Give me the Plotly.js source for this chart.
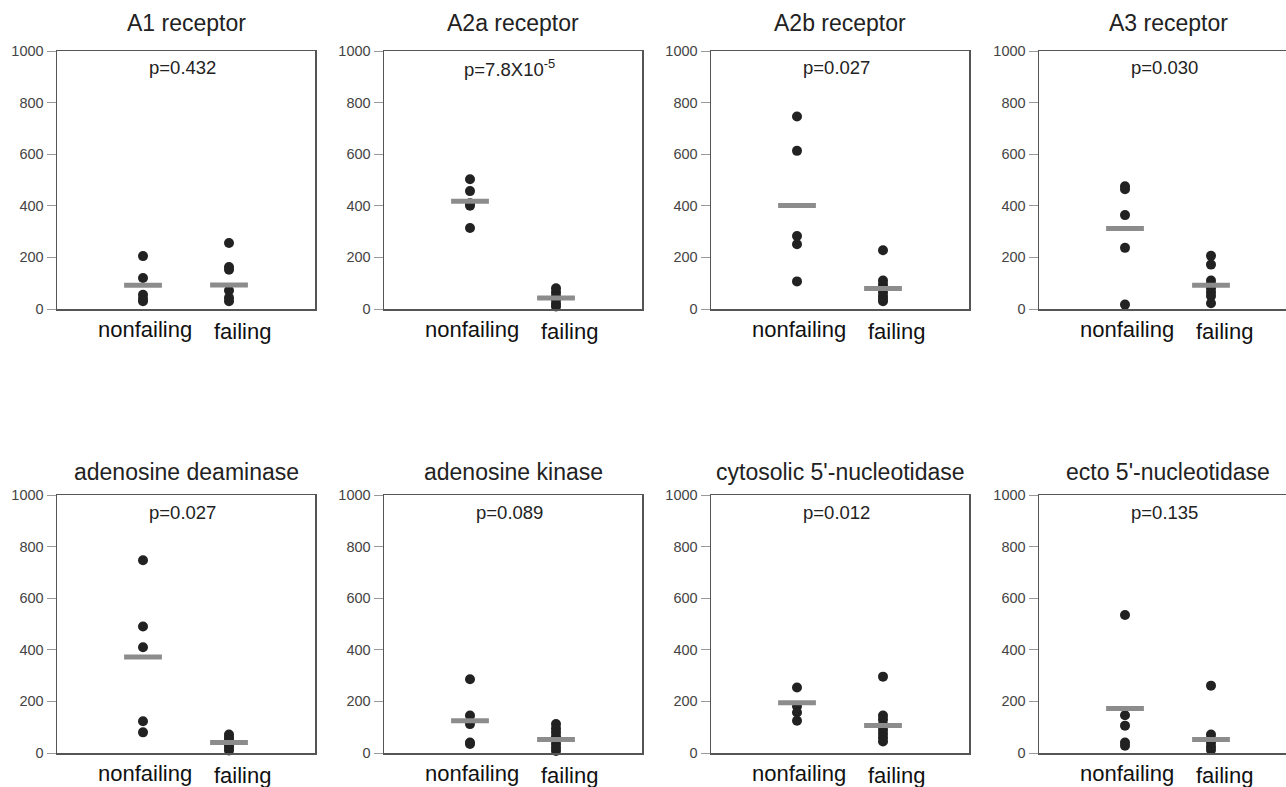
<!DOCTYPE html>
<html>
<head>
<meta charset="utf-8">
<script src="https://cdn.plot.ly/plotly-3.0.1.min.js"></script>
<style>
html,body{margin:0;padding:0;overflow:hidden;background:#fff;}
#chart{width:1300px;height:787px;}
</style>
</head>
<body>
<div id="chart"></div>
<script>
// ---- data ----
const categories = ['nonfailing', 'failing'];
const panelTitles = ['A1 receptor', 'A2a receptor', 'A2b receptor', 'A3 receptor',
  'adenosine deaminase', 'adenosine kinase', "cytosolic 5'-nucleotidase", "ecto 5'-nucleotidase"];
const pValues = ['p=0.432', 'p=7.8X10<sup>-5</sup>', 'p=0.027', 'p=0.030',
  'p=0.027', 'p=0.089', 'p=0.012', 'p=0.135'];

const a1Nonfailing = [205, 120, 55, 40, 30];
const a1Failing = [256, 163, 152, 72, 43, 30];
const a2aNonfailing = [503, 457, 410, 400, 314];
const a2aFailing = [80, 65, 50, 35, 20, 10];
const a2bNonfailing = [746, 613, 283, 251, 107];
const a2bFailing = [228, 110, 95, 80, 65, 50, 40, 30];
const a3Nonfailing = [476, 464, 364, 237, 17];
const a3Failing = [206, 172, 110, 95, 80, 65, 50, 22];
const adaNonfailing = [747, 490, 410, 123, 80];
const adaFailing = [72, 60, 50, 40, 30, 20, 10];
const akNonfailing = [286, 145, 112, 41, 35];
const akFailing = [112, 95, 80, 65, 50, 35, 20, 8];
const cntNonfailing = [254, 181, 157, 125];
const cntFailing = [296, 145, 130, 110, 90, 75, 60, 45];
const ectoNonfailing = [535, 146, 106, 41, 28];
const ectoFailing = [261, 72, 55, 40, 25, 12];

const meanNonfailing = [92, 418, 401, 312, 372, 125, 195, 172];
const meanFailing = [93, 43, 79, 92, 41, 52, 107, 52];

const yTicks = [0, 200, 400, 600, 800, 1000];

// ---- layout geometry (pixels) ----
const W = 1300, H = 787;
const colLeft = [57, 384, 711, 1039];
const plotSize = 258;
const rowTop = [51, 495];
const labelShiftX = [2, 13];
const labelShiftY = [-20, -22];

const groups = [
  [a1Nonfailing, a1Failing], [a2aNonfailing, a2aFailing], [a2bNonfailing, a2bFailing], [a3Nonfailing, a3Failing],
  [adaNonfailing, adaFailing], [akNonfailing, akFailing], [cntNonfailing, cntFailing], [ectoNonfailing, ectoFailing]
];

const FONT = 'Liberation Sans, Arial, sans-serif';
const traces = [];
const layout = {
  width: W, height: H,
  margin: {l: 0, r: 0, t: 0, b: 0},
  paper_bgcolor: '#fff', plot_bgcolor: '#fff',
  showlegend: false,
  font: {family: FONT},
  annotations: []
};

groups.forEach((g, i) => {
  const n = i + 1;
  const xa = n === 1 ? 'x' : 'x' + n;
  const ya = n === 1 ? 'y' : 'y' + n;
  const col = i % 4, row = Math.floor(i / 4);
  const x0 = colLeft[col], x1 = x0 + plotSize;
  const yTop = rowTop[row], yBot = yTop + plotSize;

  const xs = [], ys = [];
  g[0].forEach(v => { xs.push(categories[0]); ys.push(v); });
  g[1].forEach(v => { xs.push(categories[1]); ys.push(v); });
  traces.push({
    type: 'scatter', mode: 'markers', x: xs, y: ys, xaxis: xa, yaxis: ya,
    marker: {color: '#222', size: 10}, cliponaxis: false, hoverinfo: 'y'
  });
  traces.push({
    type: 'scatter', mode: 'markers', x: categories, y: [meanNonfailing[i], meanFailing[i]],
    xaxis: xa, yaxis: ya,
    marker: {symbol: 'line-ew', size: 27, line: {width: 5, color: '#8c8c8c'}, color: '#8c8c8c'},
    cliponaxis: false, hoverinfo: 'y'
  });

  layout['xaxis' + (n === 1 ? '' : n)] = {
    domain: [x0 / W, x1 / W], anchor: ya,
    type: 'category', categoryarray: categories, range: [-1, 2],
    showline: true, mirror: true, linecolor: '#555', linewidth: 1.5,
    showgrid: false, zeroline: false, ticks: '', showticklabels: false
  };
  layout['yaxis' + (n === 1 ? '' : n)] = {
    domain: [1 - yBot / H, 1 - yTop / H], anchor: xa,
    range: [0, 1000], tickvals: yTicks,
    showline: true, mirror: true, linecolor: '#555', linewidth: 1.5,
    showgrid: false, zeroline: false,
    ticks: 'outside', ticklen: 9, tickcolor: '#999', tickwidth: 1,
    tickfont: {size: 14.5, color: '#444', family: FONT}
  };

  categories.forEach((c, k) => {
    layout.annotations.push({
      text: c, xref: xa, yref: ya + ' domain', x: c, y: 0,
      xshift: labelShiftX[k], yshift: labelShiftY[k],
      xanchor: 'center', yanchor: 'middle', showarrow: false,
      font: {size: 22, color: '#111', family: FONT}
    });
  });

  layout.annotations.push({
    text: panelTitles[i], xref: 'paper', yref: 'paper',
    x: (x0 + x1) / 2 / W, y: 1 - (row === 0 ? 23 : 472) / H,
    xanchor: 'center', yanchor: 'middle', showarrow: false,
    font: {size: 23, color: '#222', family: FONT}
  });
  layout.annotations.push({
    text: pValues[i], xref: 'paper', yref: 'paper',
    x: ((x0 + x1) / 2 - 4) / W, y: 1 - (yTop + 17) / H,
    xanchor: 'center', yanchor: 'middle', showarrow: false,
    font: {size: 18.5, color: '#222', family: FONT}
  });
});

Plotly.newPlot('chart', traces, layout, {displayModeBar: false, staticPlot: true});
</script>
</body>
</html>
